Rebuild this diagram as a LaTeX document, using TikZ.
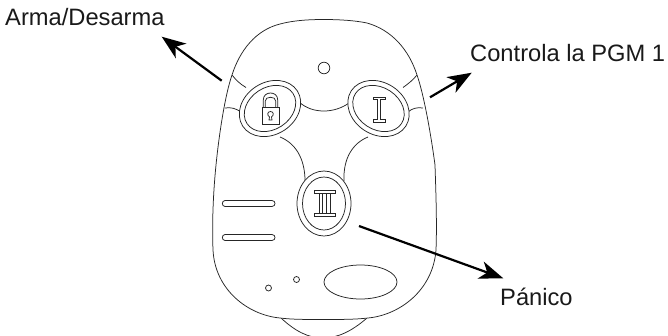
\documentclass[tikz,border=0pt]{standalone}
\usepackage{fontspec}
\setmainfont{Liberation Sans}
\usetikzlibrary{arrows.meta}
\tikzset{
  lbl/.style={font=\fontsize{23.7}{28}\selectfont,inner sep=0pt,text=black!90},
  thin line/.style={draw=black!85,line width=0.75pt},
  pointer/.style={draw=black,line width=2.2pt,-{Stealth[length=24pt,width=18pt,inset=7pt]}},
  spot/.style={inner sep=0pt,minimum size=0pt},
}
\begin{document}
\begin{tikzpicture}[x=1pt,y=-1pt]
\useasboundingbox (0,0) rectangle (668,335);
\begin{scope}
\clip (0,0) rectangle (668,335);
% chin
\draw[thin line] (281,318) .. controls (295,331) and (308,338) .. (323,338) .. controls (338,338) and (352,331) .. (367,318);
\end{scope}
% body
\draw[thin line,fill=white] (323,19.5) .. controls (340,19.5) and (355,20.5) .. (367,23)
  .. controls (392,30) and (409,50) .. (417,75)
  .. controls (424,95) and (431,135) .. (435,165)
  .. controls (436,195) and (437,225) .. (436,250)
  .. controls (433,290) and (400,315) .. (368,318)
  .. controls (355,319.5) and (340,319.5) .. (323,319.5)
  .. controls (306,319.5) and (292,319.5) .. (280,318)
  .. controls (248,315) and (215,290) .. (213,250)
  .. controls (212,225) and (213,195) .. (216,165)
  .. controls (219,135) and (225,95) .. (232,75)
  .. controls (240,50) and (256,30) .. (280,24)
  .. controls (293,20.5) and (308,19.5) .. (323,19.5) -- cycle;
% seams
\draw[thin line] (232,75) .. controls (236,80) and (240,84) .. (246,87.5);
\draw[thin line] (225,108) .. controls (231,107) and (236,108.5) .. (241,112);
\draw[thin line] (417,75) .. controls (413,80) and (408,84) .. (403,87.5);
\draw[thin line] (423,108) .. controls (417,107) and (412,108.5) .. (408,112);
\draw[thin line] (299,102) .. controls (306,108) and (314,111) .. (324,111) .. controls (333,111) and (342,108) .. (349,103);
\draw[thin line] (280,137) .. controls (295,143) and (305,158) .. (305,181);
\draw[thin line] (368,137) .. controls (353,143) and (343,158) .. (344,181);
% buttons
\node[spot] (btnA) at (270,108.5) {};
\node[spot] (btnB) at (378.5,108.5) {};
\node[spot] (btnC) at (324,203.5) {};
\draw[thin line,fill=white,rotate around={33:(btnA)}] (btnA) ellipse [x radius=32.5,y radius=26];
\draw[thin line,rotate around={33:(btnA)}] (btnA) ellipse [x radius=27.5,y radius=21];
\draw[thin line,fill=white,rotate around={-33:(btnB)}] (btnB) ellipse [x radius=32.5,y radius=26];
\draw[thin line,rotate around={-33:(btnB)}] (btnB) ellipse [x radius=27.5,y radius=21];
\draw[thin line,fill=white] (btnC) ellipse [x radius=27,y radius=32.5];
\draw[thin line] (btnC) ellipse [x radius=21.5,y radius=26.5];
% lock
\draw[thin line] (262,107) rectangle (279.3,124.3);
\draw[thin line] (263.3,107) -- (263.3,100) .. controls (263.3,95.5) and (266.5,93) .. (270.5,93) .. controls (274.5,93) and (277.7,95.5) .. (277.7,100) -- (277.7,107);
\draw[thin line] (265.3,107) -- (265.3,101) .. controls (265.3,98.5) and (267.5,97.3) .. (270.5,97.3) .. controls (273.5,97.3) and (275.7,98.5) .. (275.7,101) -- (275.7,107);
\draw[thin line] (269,120) -- (269.5,116.8) .. controls (267,115.5) and (267,111.5) .. (270.5,111.5) .. controls (274,111.5) and (274,115.5) .. (271.5,116.8) -- (272,120) -- cycle;
% I
\draw[thin line] (373,97) -- (385,97) -- (385,99.5) -- (380.8,99.5) -- (380.8,119.5) -- (385,119.5) -- (385,122) -- (373,122) -- (373,119.5) -- (377.2,119.5) -- (377.2,99.5) -- (373,99.5) -- cycle;
% II
\draw[thin line] (314,190.5) -- (335,190.5) -- (335,193.5) -- (330.3,193.5) -- (330.3,213) -- (335,213) -- (335,216) -- (314,216) -- (314,213) -- (319,213) -- (319,193.5) -- (314,193.5) -- cycle;
\draw[thin line] (322.8,193.5) -- (322.8,213) (326.5,193.5) -- (326.5,213) (319,193.5) -- (330.3,193.5) (319,213) -- (330.3,213);
% small features
\draw[thin line] (324,68) circle [radius=5.8];
\draw[thin line] (225,200.5) -- (272,200.5) .. controls (276,200.5) and (276,206.5) .. (272,206.5) -- (225,206.5) .. controls (221.5,206.5) and (221.5,200.5) .. (225,200.5) -- cycle;
\draw[thin line] (225,234.5) -- (272,234.5) .. controls (276,234.5) and (276,240.5) .. (272,240.5) -- (225,240.5) .. controls (221.5,240.5) and (221.5,234.5) .. (225,234.5) -- cycle;
\draw[thin line] (296.5,279.5) circle [radius=3];
\draw[thin line] (268.5,288) circle [radius=3];
\draw[thin line] (360.5,282) ellipse [x radius=36.5,y radius=17];
% labels
\node[lbl,anchor=base west] (arma) at (5,25) {Arma/Desarma};
\node[lbl,anchor=base west] (pgm) at (470,61) {Controla la PGM 1};
\node[lbl,anchor=base west] (panico) at (500,305.7) {Pánico};
% arrows
\coordinate (aFrom) at (221.7,80.7);
\coordinate (aTo) at (161.7,36.7);
\coordinate (bFrom) at (430,97.3);
\coordinate (bTo) at (471.7,72.7);
\coordinate (cFrom) at (359,226);
\coordinate (cTo) at (503.3,278.3);
\draw[pointer] (aFrom) -- (aTo);
\draw[pointer] (bFrom) -- (bTo);
\draw[pointer] (cFrom) -- (cTo);
\end{tikzpicture}
\end{document}
